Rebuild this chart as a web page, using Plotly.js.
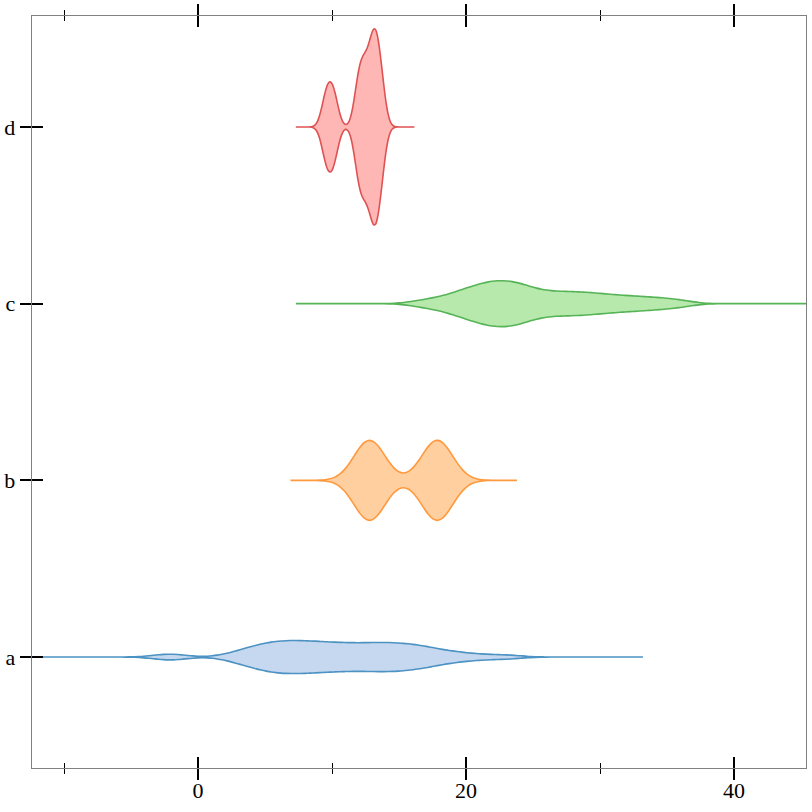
<!DOCTYPE html>
<html><head><meta charset="utf-8">
<script src="https://cdn.plot.ly/plotly-3.0.1.min.js"></script>
<style>html,body{margin:0;padding:0;background:#fff}#chart{width:812px;height:812px}</style>
</head><body><div id="chart"></div>
<script>
// ---- data (estimated sample values per category) ----
const categories = ['a', 'b', 'c', 'd'];
const samplesA = [-2.6, -1.6, 2.4, 3.2, 3.66, 4.13, 4.49, 4.78, 5.08, 5.37, 5.65, 5.90, 6.16, 6.41, 6.67, 6.92,
  7.18, 7.44, 7.71, 7.97, 8.23, 8.49, 8.76, 9.02, 9.31, 9.61, 9.90, 10.19, 10.49, 10.78, 11.08, 11.39,
  11.70, 12.01, 12.32, 12.62, 12.93, 13.23, 13.53, 13.82, 14.10, 14.39, 14.68, 14.97, 15.28, 15.61,
  15.94, 16.27, 16.60, 16.93, 17.37, 17.85, 18.43, 19.16, 20.07, 21.4, 23.2];
const samplesB = [12.4, 12.6, 12.8, 13.0, 13.2, 17.45, 17.65, 17.85, 18.05, 18.25];
const samplesC = [16.7, 18.0, 18.75, 19.35, 19.8, 20.2, 20.55, 20.85, 21.15, 21.45, 21.72, 21.98,
  22.23, 22.48, 22.73, 22.98, 23.23, 23.48, 23.74, 24.0, 24.28, 24.6, 25.0, 25.45, 25.95, 26.45,
  26.95, 27.45, 27.95, 28.45, 28.95, 29.5, 30.08, 30.73, 31.39, 32.15, 32.95, 33.8, 34.8, 36.0];
const samplesD = [9.5, 9.85, 10.2, 11.9, 12.1, 12.35, 12.6, 12.85, 13.1, 13.2, 13.25, 13.55, 13.7];
const xTick0 = 0, xMajorStep = 20, xMinorStep = 10;

// ---- styles ----
const seriesSamples = [samplesA, samplesB, samplesC, samplesD];
const style = [
  {line: '#4c92c3', fill: '#c6d8ef', bw: 1.1,  span: [-15, 33.2], width: 0.187},
  {line: '#ff993e', fill: '#ffcfa0', bw: 1.12, span: [6.9, 23.8], width: 0.453},
  {line: '#56b356', fill: '#b7e9ad', bw: 1.1,  span: [7.3, 48],   width: 0.26},
  {line: '#de5253', fill: '#ffb7b6', bw: 0.35, span: [7.3, 16.15], width: 1.109}
];

const traces = categories.map((cat, i) => ({
  type: 'violin', orientation: 'h',
  x: seriesSamples[i], y0: cat, name: cat,
  bandwidth: style[i].bw, spanmode: 'manual', span: style[i].span,
  width: style[i].width, scalemode: 'width', side: 'both',
  points: false, box: {visible: false}, meanline: {visible: false},
  line: {color: style[i].line, width: 1.6}, fillcolor: style[i].fill,
  hoverinfo: 'skip', xaxis: 'x', yaxis: 'y'
}));
// empty helper traces so the overlay axes (inner tick halves) get drawn
traces.push({type: 'scatter', mode: 'markers', x: [], y: [], xaxis: 'x2', yaxis: 'y', hoverinfo: 'skip', showlegend: false});
traces.push({type: 'scatter', mode: 'markers', x: [], y: [], xaxis: 'x', yaxis: 'y2', hoverinfo: 'skip', showlegend: false});

const xr = [-12.39, 45.37];
const yr = [-0.628, 3.628];
const axLine = '#808080';
const common = {showgrid: false, zeroline: false, showline: true, linecolor: axLine, linewidth: 1.3,
  tickcolor: '#000', tickwidth: 2, ticklen: 11};

const layout = {
  width: 812, height: 812,
  margin: {l: 32, r: 6, t: 16, b: 44, pad: 0},
  paper_bgcolor: '#fff', plot_bgcolor: '#fff',
  showlegend: false,
  font: {family: '"Liberation Serif", "Times New Roman", serif', size: 22, color: '#000'},
  xaxis: Object.assign({}, common, {
    range: xr, autorange: false, tickmode: 'linear', tick0: xTick0, dtick: xMajorStep,
    ticks: 'outside', mirror: 'ticks', ticklabelstandoff: -9,
    minor: {ticks: 'outside', ticklen: 5, tickwidth: 1, tickcolor: '#000', tick0: xTick0, dtick: xMinorStep, showgrid: false}
  }),
  xaxis2: Object.assign({}, common, {
    overlaying: 'x', anchor: 'y', side: 'bottom',
    range: xr, autorange: false, tickmode: 'linear', tick0: xTick0, dtick: xMajorStep,
    ticks: 'inside', mirror: 'ticks', showticklabels: false,
    minor: {ticks: 'inside', ticklen: 5, tickwidth: 1, tickcolor: '#000', tick0: xTick0, dtick: xMinorStep, showgrid: false}
  }),
  yaxis: Object.assign({}, common, {
    type: 'category', categoryorder: 'array', categoryarray: categories,
    range: yr, autorange: false, ticks: 'outside', mirror: true
  }),
  yaxis2: Object.assign({}, common, {
    overlaying: 'y', anchor: 'x', side: 'left', type: 'linear',
    range: yr, autorange: false, tickmode: 'array', tickvals: categories.map((c, i) => i),
    ticks: 'inside', showticklabels: false
  })
};

Plotly.newPlot('chart', traces, layout, {staticPlot: true, displayModeBar: false});
</script>
</body></html>
